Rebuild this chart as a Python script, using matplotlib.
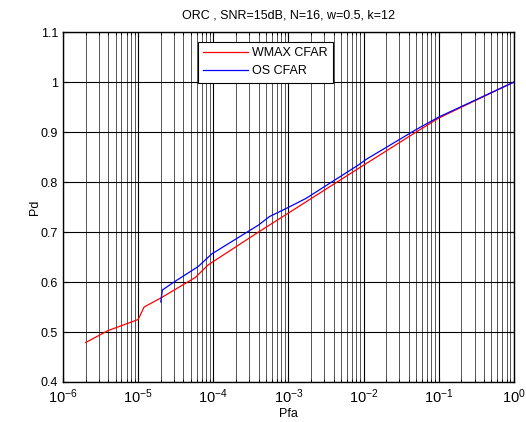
import matplotlib
matplotlib.use("Agg")
import matplotlib.pyplot as plt
from matplotlib.ticker import FixedLocator, NullFormatter

plt.rcParams['font.family'] = ['Liberation Sans', 'DejaVu Sans']
plt.rcParams['mathtext.fontset'] = 'custom'
plt.rcParams['mathtext.rm'] = 'Liberation Sans'
plt.rcParams['mathtext.it'] = 'Liberation Sans'

# WMAX CFAR curve
pfa_wmax = [2e-6, 4e-6, 1e-5, 1.2e-5, 2e-5, 5.75e-5, 8.5e-5, 1e-4, 2.5e-4,
            4e-4, 1e-3, 8.5e-3, 1.35e-2, 5e-2, 1e-1, 1.0]
pd_wmax = [0.479, 0.503, 0.525, 0.550, 0.568, 0.609, 0.634, 0.641, 0.680,
           0.700, 0.738, 0.827, 0.846, 0.900, 0.928, 1.0]

# OS CFAR curve
pfa_os = [2e-5, 2.1e-5, 3e-5, 6.3e-5, 9.5e-5, 4e-4, 5.6e-4, 9.3e-4, 1.7e-3,
          8.5e-3, 1.1e-2, 5e-2, 1e-1, 1.0]
pd_os = [0.560, 0.584, 0.600, 0.631, 0.656, 0.714, 0.731, 0.747, 0.767,
         0.834, 0.846, 0.905, 0.930, 1.0]

decades = [-6, -5, -4, -3, -2, -1, 0]
yticks = [0.4, 0.5, 0.6, 0.7, 0.8, 0.9, 1.0, 1.1]
ytick_labels = ['0.4', '0.5', '0.6', '0.7', '0.8', '0.9', '1', '1.1']

fig = plt.figure(figsize=(5.26, 4.22), dpi=100)
ax = fig.add_axes([0.1198, 0.0948, 0.8572, 0.8292])

ax.semilogx(pfa_wmax, pd_wmax, color='red', lw=0.9, label='WMAX CFAR')
ax.semilogx(pfa_os, pd_os, color='blue', lw=0.9, label='OS CFAR')

ax.set_xlim(1e-6, 1)
ax.set_ylim(0.4, 1.1)
ax.set_yticks(yticks)
ax.set_yticklabels(ytick_labels)
ax.set_xticks([10.0 ** d for d in decades])
ax.set_xticklabels([r'$10^{%d}$' % d for d in decades])
minor = [m * 10.0 ** d for d in decades[:-1] for m in range(2, 10)]
ax.xaxis.set_minor_locator(FixedLocator(minor))
ax.xaxis.set_minor_formatter(NullFormatter())

ax.grid(True, which='major', color='black', lw=0.8)
ax.grid(True, which='minor', axis='x', color='#555555', lw=0.7)
ax.tick_params(which='both', direction='in', top=True, right=True, labelsize=9)
ax.tick_params(axis='x', labelsize=10.5, pad=4)
for s in ax.spines.values():
    s.set_linewidth(1.0)

ax.set_xlabel('Pfa', fontsize=9, labelpad=1)
ax.set_ylabel('Pd', fontsize=9, labelpad=0)
ax.set_title('ORC , SNR=15dB, N=16, w=0.5, k=12', fontsize=9, pad=10)

leg = ax.legend(loc='upper left', bbox_to_anchor=(0.299, 0.972), fontsize=9,
                frameon=True, fancybox=False, framealpha=1, edgecolor='black',
                borderaxespad=0, handlelength=3.6, handletextpad=0.3,
                borderpad=0.45, labelspacing=0.45)
leg.get_frame().set_linewidth(0.8)

fig.savefig('out.png', dpi=100)
